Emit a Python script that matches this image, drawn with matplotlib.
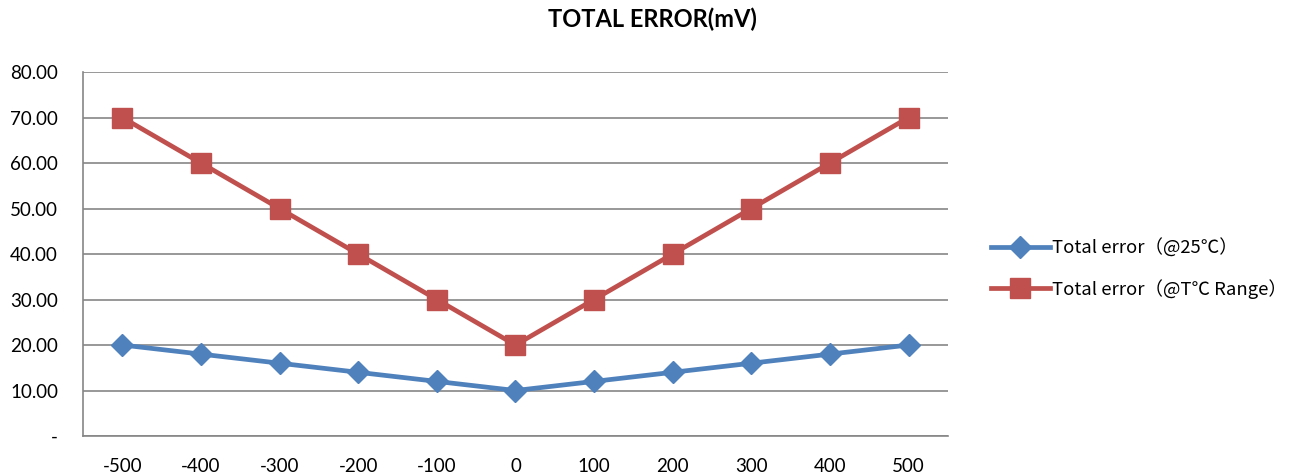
import matplotlib
matplotlib.use("Agg")
import matplotlib.pyplot as plt
from matplotlib.ticker import FuncFormatter

plt.rcParams['font.family'] = ['Lato', 'Noto Sans CJK SC', 'DejaVu Sans']

categories = ["-500", "-400", "-300", "-200", "-100", "0", "100", "200", "300", "400", "500"]
err_25c = [20, 18, 16, 14, 12, 10, 12, 14, 16, 18, 20]
err_range = [70, 60, 50, 40, 30, 20, 30, 40, 50, 60, 70]
y_ticks = [0, 10, 20, 30, 40, 50, 60, 70, 80]

BLUE = "#4F81BD"
RED = "#C0504D"
GRID = "#868686"

fig = plt.figure(figsize=(12.92, 4.75), dpi=100)
ax = fig.add_axes([0.0642, 0.0821, 0.6695, 0.7663])

x = list(range(len(categories)))
ax.plot(x, err_25c, color=BLUE, lw=3.4, marker="D", ms=11, mec=BLUE,
        label="Total error\uff08@25\u2103\uff09", zorder=3)
ax.plot(x, err_range, color=RED, lw=3.4, marker="s", ms=14, mec=RED,
        label="Total error\uff08@T\u2103 Range\uff09", zorder=3)

ax.set_xlim(-0.5, len(categories) - 0.5)
ax.set_ylim(0, 80)
ax.set_xticks(x)
ax.set_xticklabels(categories)
ax.set_yticks(y_ticks)
ax.yaxis.set_major_formatter(FuncFormatter(lambda v, _: "-" if v == 0 else f"{v:.2f}"))
ax.tick_params(length=0, labelsize=13.5, colors="black")
ax.tick_params(axis="x", pad=16)
ax.tick_params(axis="y", pad=18)
ax.grid(axis="y", color=GRID, lw=1.2)
ax.set_axisbelow(True)
for side in ["top", "right"]:
    ax.spines[side].set_visible(False)
for side in ["left", "bottom"]:
    ax.spines[side].set_color(GRID)
    ax.spines[side].set_linewidth(1.2)

fig.suptitle("TOTAL ERROR(mV)", x=0.505, y=0.985, fontsize=17, fontweight="bold")

ax.legend(loc="center left", bbox_to_anchor=(1.03, 0.46), frameon=False,
          prop={"family": ["Noto Sans CJK SC", "DejaVu Sans"], "size": 13.3},
          handlelength=3.2, handletextpad=0.15, labelspacing=1.15)

fig.savefig("out.png", dpi=100)
